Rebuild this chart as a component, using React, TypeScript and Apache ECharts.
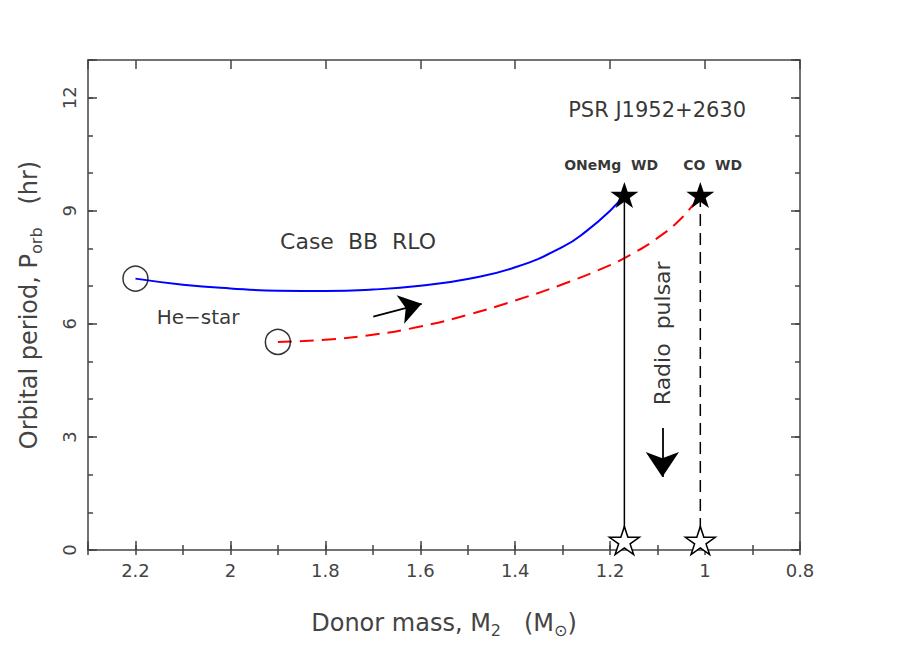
import React, { useEffect, useRef } from "react";
import * as echarts from "echarts";

// Donor-mass / orbital-period tracks
const massBlue = [2.2, 2.1, 2.0, 1.9, 1.8, 1.7, 1.6, 1.5, 1.4, 1.3, 1.25, 1.2, 1.17];
const periodBlue = [7.2, 7.04, 6.94, 6.88, 6.87, 6.91, 7.01, 7.19, 7.5, 8.04, 8.46, 9.0, 9.42];
const massRed = [1.9, 1.8, 1.7, 1.6, 1.5, 1.4, 1.3, 1.2, 1.15, 1.1, 1.05, 1.01];
const periodRed = [5.52, 5.58, 5.71, 5.93, 6.24, 6.62, 7.05, 7.56, 7.88, 8.28, 8.8, 9.42];

// He-star starting points
const heStarMass = [2.2, 1.9];
const heStarPeriod = [7.2, 5.52];

// White dwarf end points (ONeMg, CO) and radio pulsar points
const wdMass = [1.17, 1.01];
const wdPeriod = [9.42, 9.42];
const pulsarPeriod = [0.25, 0.25];

// arrows [x0, y0, x1, y1]
const evolArrow = [1.699, 6.19, 1.597, 6.53];
const pulsarArrow = [1.09, 3.24, 1.09, 1.94];

// annotations
const noteTexts = ["PSR J1952+2630", "ONeMg  WD", "CO  WD", "Case  BB  RLO", "He−star", "Radio  pulsar"];
const noteX = [1.101, 1.198, 0.984, 1.731, 2.068, 1.09];
const noteY = [11.68, 10.22, 10.22, 8.18, 6.19, 5.75];

// axis ranges / ticks
const xMin = 0.8;
const xMax = 2.3;
const xMajor = 0.2;
const xMinor = 0.1;
const yMin = 0;
const yMax = 13;
const yMajor = 3;
const yMinor = 1;

const FONT = "DejaVu Sans";
const AX = "#444";
const STAR =
  "path://M50 0 L61.23 34.55 L97.55 34.55 L68.17 55.9 L79.39 90.45 L50 69.1 L20.61 90.45 L31.83 55.9 L2.45 34.55 L38.77 34.55 Z";

export default function App() {
  const ref = useRef<HTMLDivElement>(null);
  useEffect(() => {
    if (!ref.current) return;
    const chart = echarts.init(ref.current, undefined, { renderer: "svg" });

    const axisLine = { show: true, onZero: false, lineStyle: { color: AX, width: 1.5 } };
    const xCommon = { type: "value", min: xMin, max: xMax, inverse: true, splitLine: { show: false } };
    const yCommon = { type: "value", min: yMin, max: yMax, splitLine: { show: false } };
    const tickMaj = { show: true, inside: true, length: 9, lineStyle: { color: AX, width: 1.5 } };
    const tickMin = { show: true, inside: true, length: 5, lineStyle: { color: AX, width: 1.5 } };

    const fmtX = (v: number) => (Math.abs(v - xMax) < 1e-6 ? "" : String(+v.toFixed(1)));
    const fmtY = (v: number) => (Math.abs(v - yMax) < 1e-6 ? "" : String(v));

    const nameRich = {
      a: { fontSize: 24, lineHeight: 30, color: AX, fontFamily: FONT },
      s: { fontSize: 16, lineHeight: 16, color: AX, fontFamily: FONT, verticalAlign: "bottom" },
    };

    const lineData = (xs: number[], ys: number[]) => xs.map((x, i) => [x, ys[i]]);

    const option: any = {
      animation: false,
      backgroundColor: "#fff",
      textStyle: { fontFamily: FONT },
      grid: { left: 88, right: 118, top: 60, bottom: 114, containLabel: false, outerBoundsMode: "none" },
      xAxis: [
        {
          ...xCommon,
          position: "bottom",
          interval: xMajor,
          axisLine,
          axisTick: tickMaj,
          axisLabel: { formatter: fmtX, fontSize: 18, color: AX, fontFamily: FONT, margin: 11 },
          name: "{a|Donor mass, M}{s|2}{a|   (M}{s|⊙}{a|)}",
          nameLocation: "middle",
          nameGap: 58,
          nameTextStyle: { rich: nameRich },
        },
        { ...xCommon, position: "bottom", interval: xMinor, axisLine: { show: false }, axisTick: tickMin, axisLabel: { show: false } },
        { ...xCommon, position: "top", interval: xMajor, axisLine, axisTick: tickMaj, axisLabel: { show: false } },
        { ...xCommon, position: "top", interval: xMinor, axisLine: { show: false }, axisTick: tickMin, axisLabel: { show: false } },
      ],
      yAxis: [
        {
          ...yCommon,
          position: "left",
          interval: yMajor,
          axisLine,
          axisTick: tickMaj,
          axisLabel: { formatter: fmtY, fontSize: 18, color: AX, fontFamily: FONT, rotate: 90, margin: 10 },
          name: "{a|Orbital period, P}{s|orb}{a|   (hr)}",
          nameLocation: "middle",
          nameGap: 44,
          nameTextStyle: { rich: nameRich },
        },
        { ...yCommon, position: "left", interval: yMinor, axisLine: { show: false }, axisTick: tickMin, axisLabel: { show: false } },
        { ...yCommon, position: "right", interval: yMajor, axisLine, axisTick: tickMaj, axisLabel: { show: false } },
        { ...yCommon, position: "right", interval: yMinor, axisLine: { show: false }, axisTick: tickMin, axisLabel: { show: false } },
      ],
      series: [
        {
          type: "line",
          data: lineData(massBlue, periodBlue),
          smooth: 0.5,
          showSymbol: false,
          lineStyle: { color: "#0000ff", width: 2 },
          z: 3,
        },
        {
          type: "line",
          data: lineData(massRed, periodRed),
          smooth: 0.5,
          showSymbol: false,
          lineStyle: { color: "#ff0000", width: 2, type: [14, 8] },
          z: 3,
        },
        {
          type: "line",
          data: [
            [wdMass[0], wdPeriod[0]],
            [wdMass[0], pulsarPeriod[0]],
          ],
          showSymbol: false,
          lineStyle: { color: "#000", width: 1.5 },
          z: 3,
        },
        {
          type: "line",
          data: [
            [wdMass[1], wdPeriod[1]],
            [wdMass[1], pulsarPeriod[1]],
          ],
          showSymbol: false,
          lineStyle: { color: "#000", width: 1.5, type: [12, 7] },
          z: 3,
        },
        {
          type: "scatter",
          data: lineData(heStarMass, heStarPeriod),
          symbol: "circle",
          symbolSize: 25,
          itemStyle: { color: "rgba(0,0,0,0)", borderColor: "#000", borderWidth: 1.5 },
          z: 5,
          silent: true,
        },
        {
          type: "scatter",
          data: lineData(wdMass, wdPeriod),
          symbol: STAR,
          symbolSize: [28, 26],
          itemStyle: { color: "#000", opacity: 1 },
          z: 6,
          silent: true,
        },
        {
          type: "scatter",
          data: lineData(wdMass, pulsarPeriod),
          symbol: STAR,
          symbolSize: [30, 28],
          itemStyle: { color: "#fff", borderColor: "#000", borderWidth: 1.5, opacity: 1 },
          z: 6,
          silent: true,
        },
        {
          type: "lines",
          coordinateSystem: "cartesian2d",
          data: [{ coords: [[evolArrow[0], evolArrow[1]], [evolArrow[2], evolArrow[3]]] }],
          symbol: ["none", "arrow"],
          symbolSize: [14, 22],
          lineStyle: { color: "#000", width: 1.8, opacity: 1 },
          z: 4,
          silent: true,
        },
        {
          type: "lines",
          coordinateSystem: "cartesian2d",
          data: [{ coords: [[pulsarArrow[0], pulsarArrow[1]], [pulsarArrow[2], pulsarArrow[3]]] }],
          symbol: ["none", "arrow"],
          symbolSize: [15, 25],
          lineStyle: { color: "#000", width: 1.8, opacity: 1 },
          z: 4,
          silent: true,
        },
        {
          type: "scatter",
          symbolSize: 0.1,
          itemStyle: { color: "rgba(0,0,0,0)" },
          silent: true,
          z: 7,
          data: noteTexts.map((t, i) => ({
            value: [noteX[i], noteY[i]],
            name: t,
            label: {
              fontSize: i === 0 ? 21 : i === 1 || i === 2 ? 14 : i === 4 ? 20 : 22,
              fontWeight: i === 1 || i === 2 ? "bold" : "normal",
              rotate: i === 5 ? 90 : 0,
            },
          })),
          label: {
            show: true,
            position: "inside",
            formatter: "{b}",
            color: "#000",
            fontFamily: FONT,
          },
        },
      ],
    };

    chart.setOption(option);
    return () => chart.dispose();
  }, []);

  return (
    <div
      ref={ref}
      style={{ position: "fixed", left: 0, top: 0, width: 918, height: 664, background: "#fff" }}
    />
  );
}
